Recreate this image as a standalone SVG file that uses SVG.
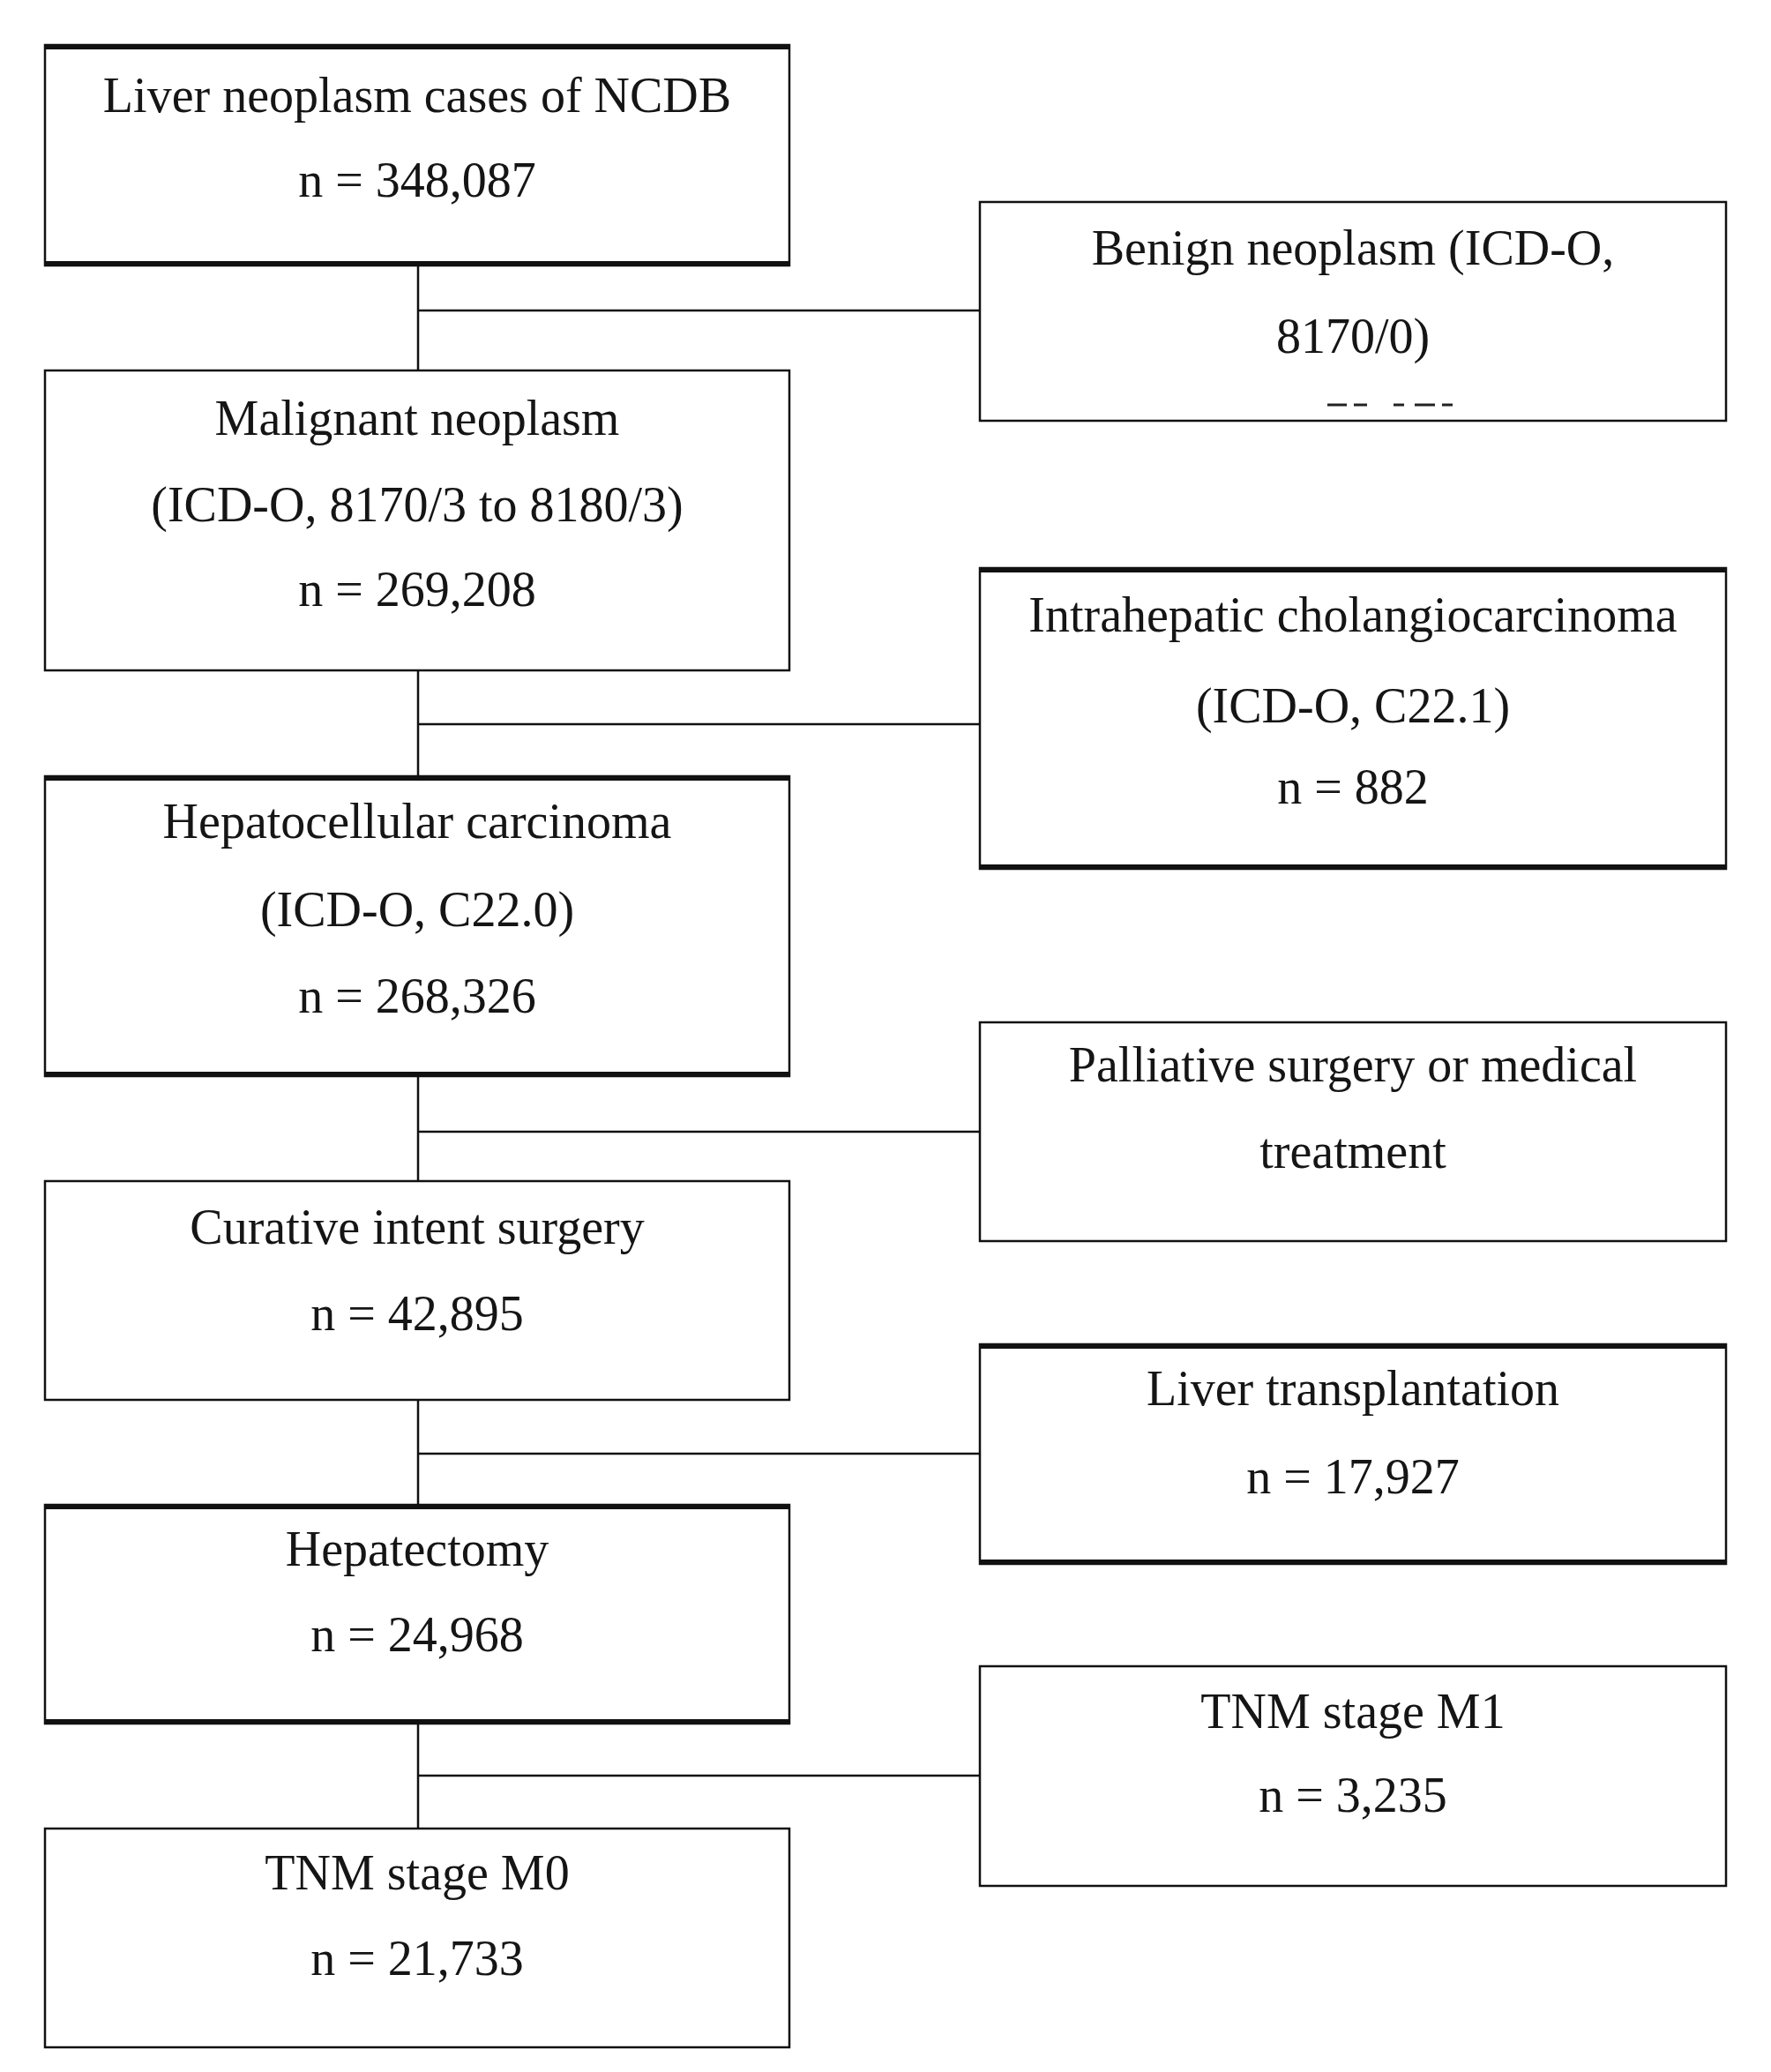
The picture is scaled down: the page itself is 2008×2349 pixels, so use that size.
<svg xmlns="http://www.w3.org/2000/svg" width="2008" height="2349" viewBox="0 0 2008 2349">
<style>
.box{fill:#fff;stroke:#111;stroke-width:2.5}
.thick{stroke:#111;stroke-width:6}
.t{font-family:"Liberation Serif","Times New Roman",serif;font-size:56px;fill:#151515;text-anchor:middle}
.c{stroke:#111;stroke-width:2.5;fill:none}
.d{stroke:#222;stroke-width:3}
</style>
<rect width="2008" height="2349" fill="#fff"/>
<g id="connectors">
<path class="c" d="M474 301V420M474 352H1111"/>
<path class="c" d="M474 760V880M474 821H1111"/>
<path class="c" d="M474 1220V1339M474 1283H1111"/>
<path class="c" d="M474 1587V1706M474 1648H1111"/>
<path class="c" d="M474 1954V2073M474 2013H1111"/>
</g>
<g id="n1">
<rect class="box" x="51" y="51" width="844" height="250"/>
<path class="thick" d="M51 53H895M51 299H895"/>
<text class="t" x="473" y="127">Liver neoplasm cases of NCDB</text>
<text class="t" x="473" y="223">n = 348,087</text>
</g>
<g id="n2">
<rect class="box" x="51" y="420" width="844" height="340"/>
<text class="t" x="473" y="493">Malignant neoplasm</text>
<text class="t" x="473" y="591">(ICD-O, 8170/3 to 8180/3)</text>
<text class="t" x="473" y="687">n = 269,208</text>
</g>
<g id="n3">
<rect class="box" x="51" y="880" width="844" height="340"/>
<path class="thick" d="M51 882H895M51 1218H895"/>
<text class="t" x="473" y="950">Hepatocellular carcinoma</text>
<text class="t" x="473" y="1050">(ICD-O, C22.0)</text>
<text class="t" x="473" y="1148">n = 268,326</text>
</g>
<g id="n4">
<rect class="box" x="51" y="1339" width="844" height="248"/>
<text class="t" x="473" y="1410">Curative intent surgery</text>
<text class="t" x="473" y="1508">n = 42,895</text>
</g>
<g id="n5">
<rect class="box" x="51" y="1706" width="844" height="248"/>
<path class="thick" d="M51 1708H895M51 1952H895"/>
<text class="t" x="473" y="1775">Hepatectomy</text>
<text class="t" x="473" y="1872">n = 24,968</text>
</g>
<g id="n6">
<rect class="box" x="51" y="2073" width="844" height="248"/>
<text class="t" x="473" y="2142">TNM stage M0</text>
<text class="t" x="473" y="2239">n = 21,733</text>
</g>
<g id="n7">
<rect class="box" x="1111" y="229" width="846" height="248"/>
<text class="t" x="1534" y="300">Benign neoplasm (ICD-O,</text>
<text class="t" x="1534" y="400">8170/0)</text>
<path class="d" d="M1505 459H1527M1535 459H1550M1580 459H1592M1604 459H1627M1635 459H1647"/>
</g>
<g id="n8">
<rect class="box" x="1111" y="644" width="846" height="341"/>
<path class="thick" d="M1111 646H1957M1111 983H1957"/>
<text class="t" x="1534" y="716">Intrahepatic cholangiocarcinoma</text>
<text class="t" x="1534" y="819">(ICD-O, C22.1)</text>
<text class="t" x="1534" y="911">n = 882</text>
</g>
<g id="n9">
<rect class="box" x="1111" y="1159" width="846" height="248"/>
<text class="t" x="1534" y="1226">Palliative surgery or medical</text>
<text class="t" x="1534" y="1324">treatment</text>
</g>
<g id="n10">
<rect class="box" x="1111" y="1524" width="846" height="249"/>
<path class="thick" d="M1111 1526H1957M1111 1771H1957"/>
<text class="t" x="1534" y="1593">Liver transplantation</text>
<text class="t" x="1534" y="1693">n = 17,927</text>
</g>
<g id="n11">
<rect class="box" x="1111" y="1889" width="846" height="249"/>
<text class="t" x="1534" y="1959">TNM stage M1</text>
<text class="t" x="1534" y="2054">n = 3,235</text>
</g>
</svg>
